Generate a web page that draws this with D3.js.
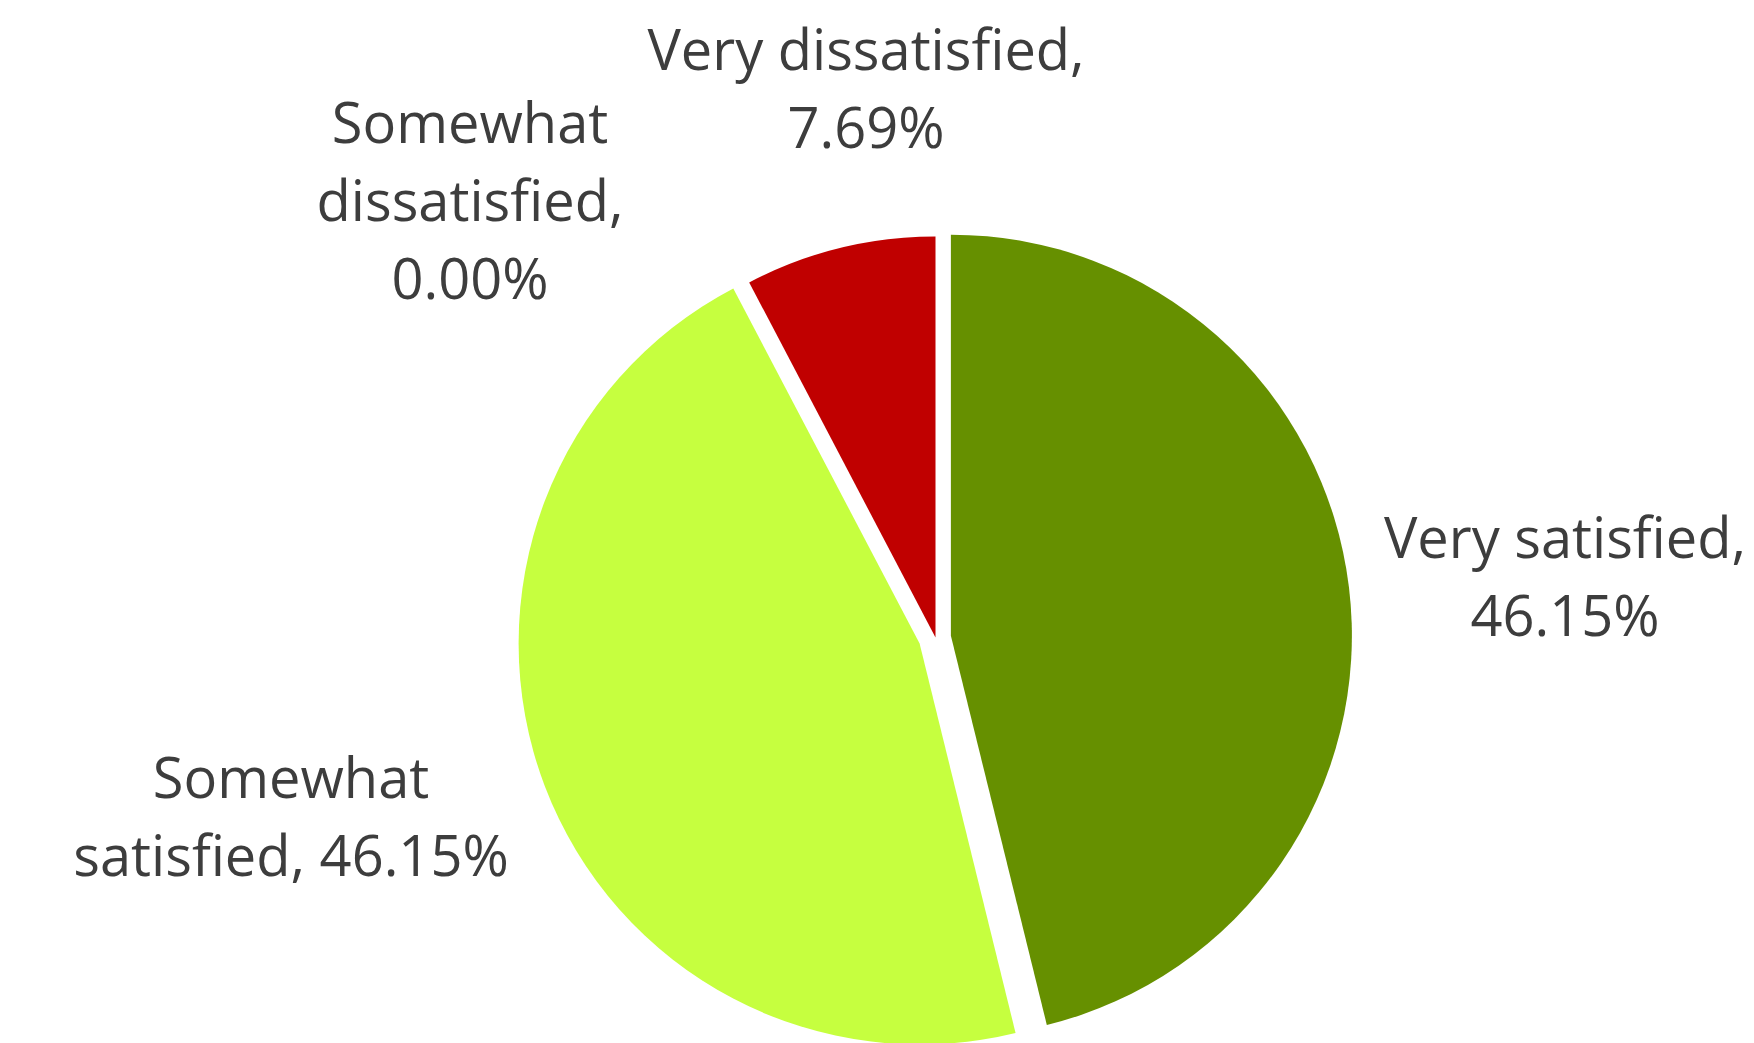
<!DOCTYPE html>
<html>
<head>
<meta charset="utf-8">
<script src="https://cdn.jsdelivr.net/npm/d3@7"></script>
<style>
  html, body { margin: 0; padding: 0; background: #ffffff; }
  svg { display: block; }
</style>
</head>
<body>
<script>
// ---- data ----
const categories = ["Very satisfied", "Somewhat satisfied", "Somewhat dissatisfied", "Very dissatisfied"];
const values = [46.15, 46.15, 0.00, 7.69];
// line breaks of each data label (category part), value appended from values[]
const labelLines = [
  ["Very satisfied,"],
  ["Somewhat", "satisfied,"],
  ["Somewhat", "dissatisfied,"],
  ["Very dissatisfied,"]
];
const valueOnOwnLine = [true, false, true, true];

// ---- style / layout ----
const W = 1754, H = 1043;
const cx = 935.5, cy = 637.5, radius = 401;
const colors = ["#669000", "#C6FF3F", "#FF9900", "#C00000"];
const explode = [15.5, 17, 0, 0];
// label anchor (center x, first baseline) relative to pie center
const labelOffset = [[629.5, -79.5], [-644.5, 160.5], [-465.5, -494.5], [-69.5, -567.5]];
const lineHeight = 78;

const svg = d3.select("body").append("svg").attr("width", W).attr("height", H);
const g = svg.append("g").attr("transform", `translate(${cx},${cy})`);

const pie = d3.pie().sort(null).value(d => d.value);
const arc = d3.arc().innerRadius(0).outerRadius(radius);
const data = categories.map((c, i) => ({ category: c, value: values[i], i }));
const arcs = pie(data);

g.selectAll("path.slice")
  .data(arcs.filter(a => a.endAngle > a.startAngle))
  .join("path")
  .attr("class", "slice")
  .attr("fill", d => colors[d.data.i])
  .attr("transform", d => {
    const mid = (d.startAngle + d.endAngle) / 2;
    const e = explode[d.data.i];
    return `translate(${e * Math.sin(mid)},${-e * Math.cos(mid)})`;
  })
  .attr("d", arc);

const fmt = d3.format(".2f");
const labels = g.selectAll("text.lbl")
  .data(arcs)
  .join("text")
  .attr("class", "lbl")
  .attr("font-family", "'Open Sans', 'Noto Sans', sans-serif")
  .attr("font-size", 56)
  .attr("fill", "#3d3d3d")
  .attr("text-anchor", "middle");

labels.each(function(d) {
  const i = d.data.i;
  const lines = labelLines[i].slice();
  const pct = fmt(d.data.value) + "%";
  if (valueOnOwnLine[i]) lines.push(pct);
  else lines[lines.length - 1] = lines[lines.length - 1] + " " + pct;
  const [ox, oy] = labelOffset[i];
  d3.select(this).selectAll("tspan")
    .data(lines)
    .join("tspan")
    .attr("x", ox)
    .attr("y", (l, k) => oy + k * lineHeight)
    .text(l => l);
});
</script>
</body>
</html>
